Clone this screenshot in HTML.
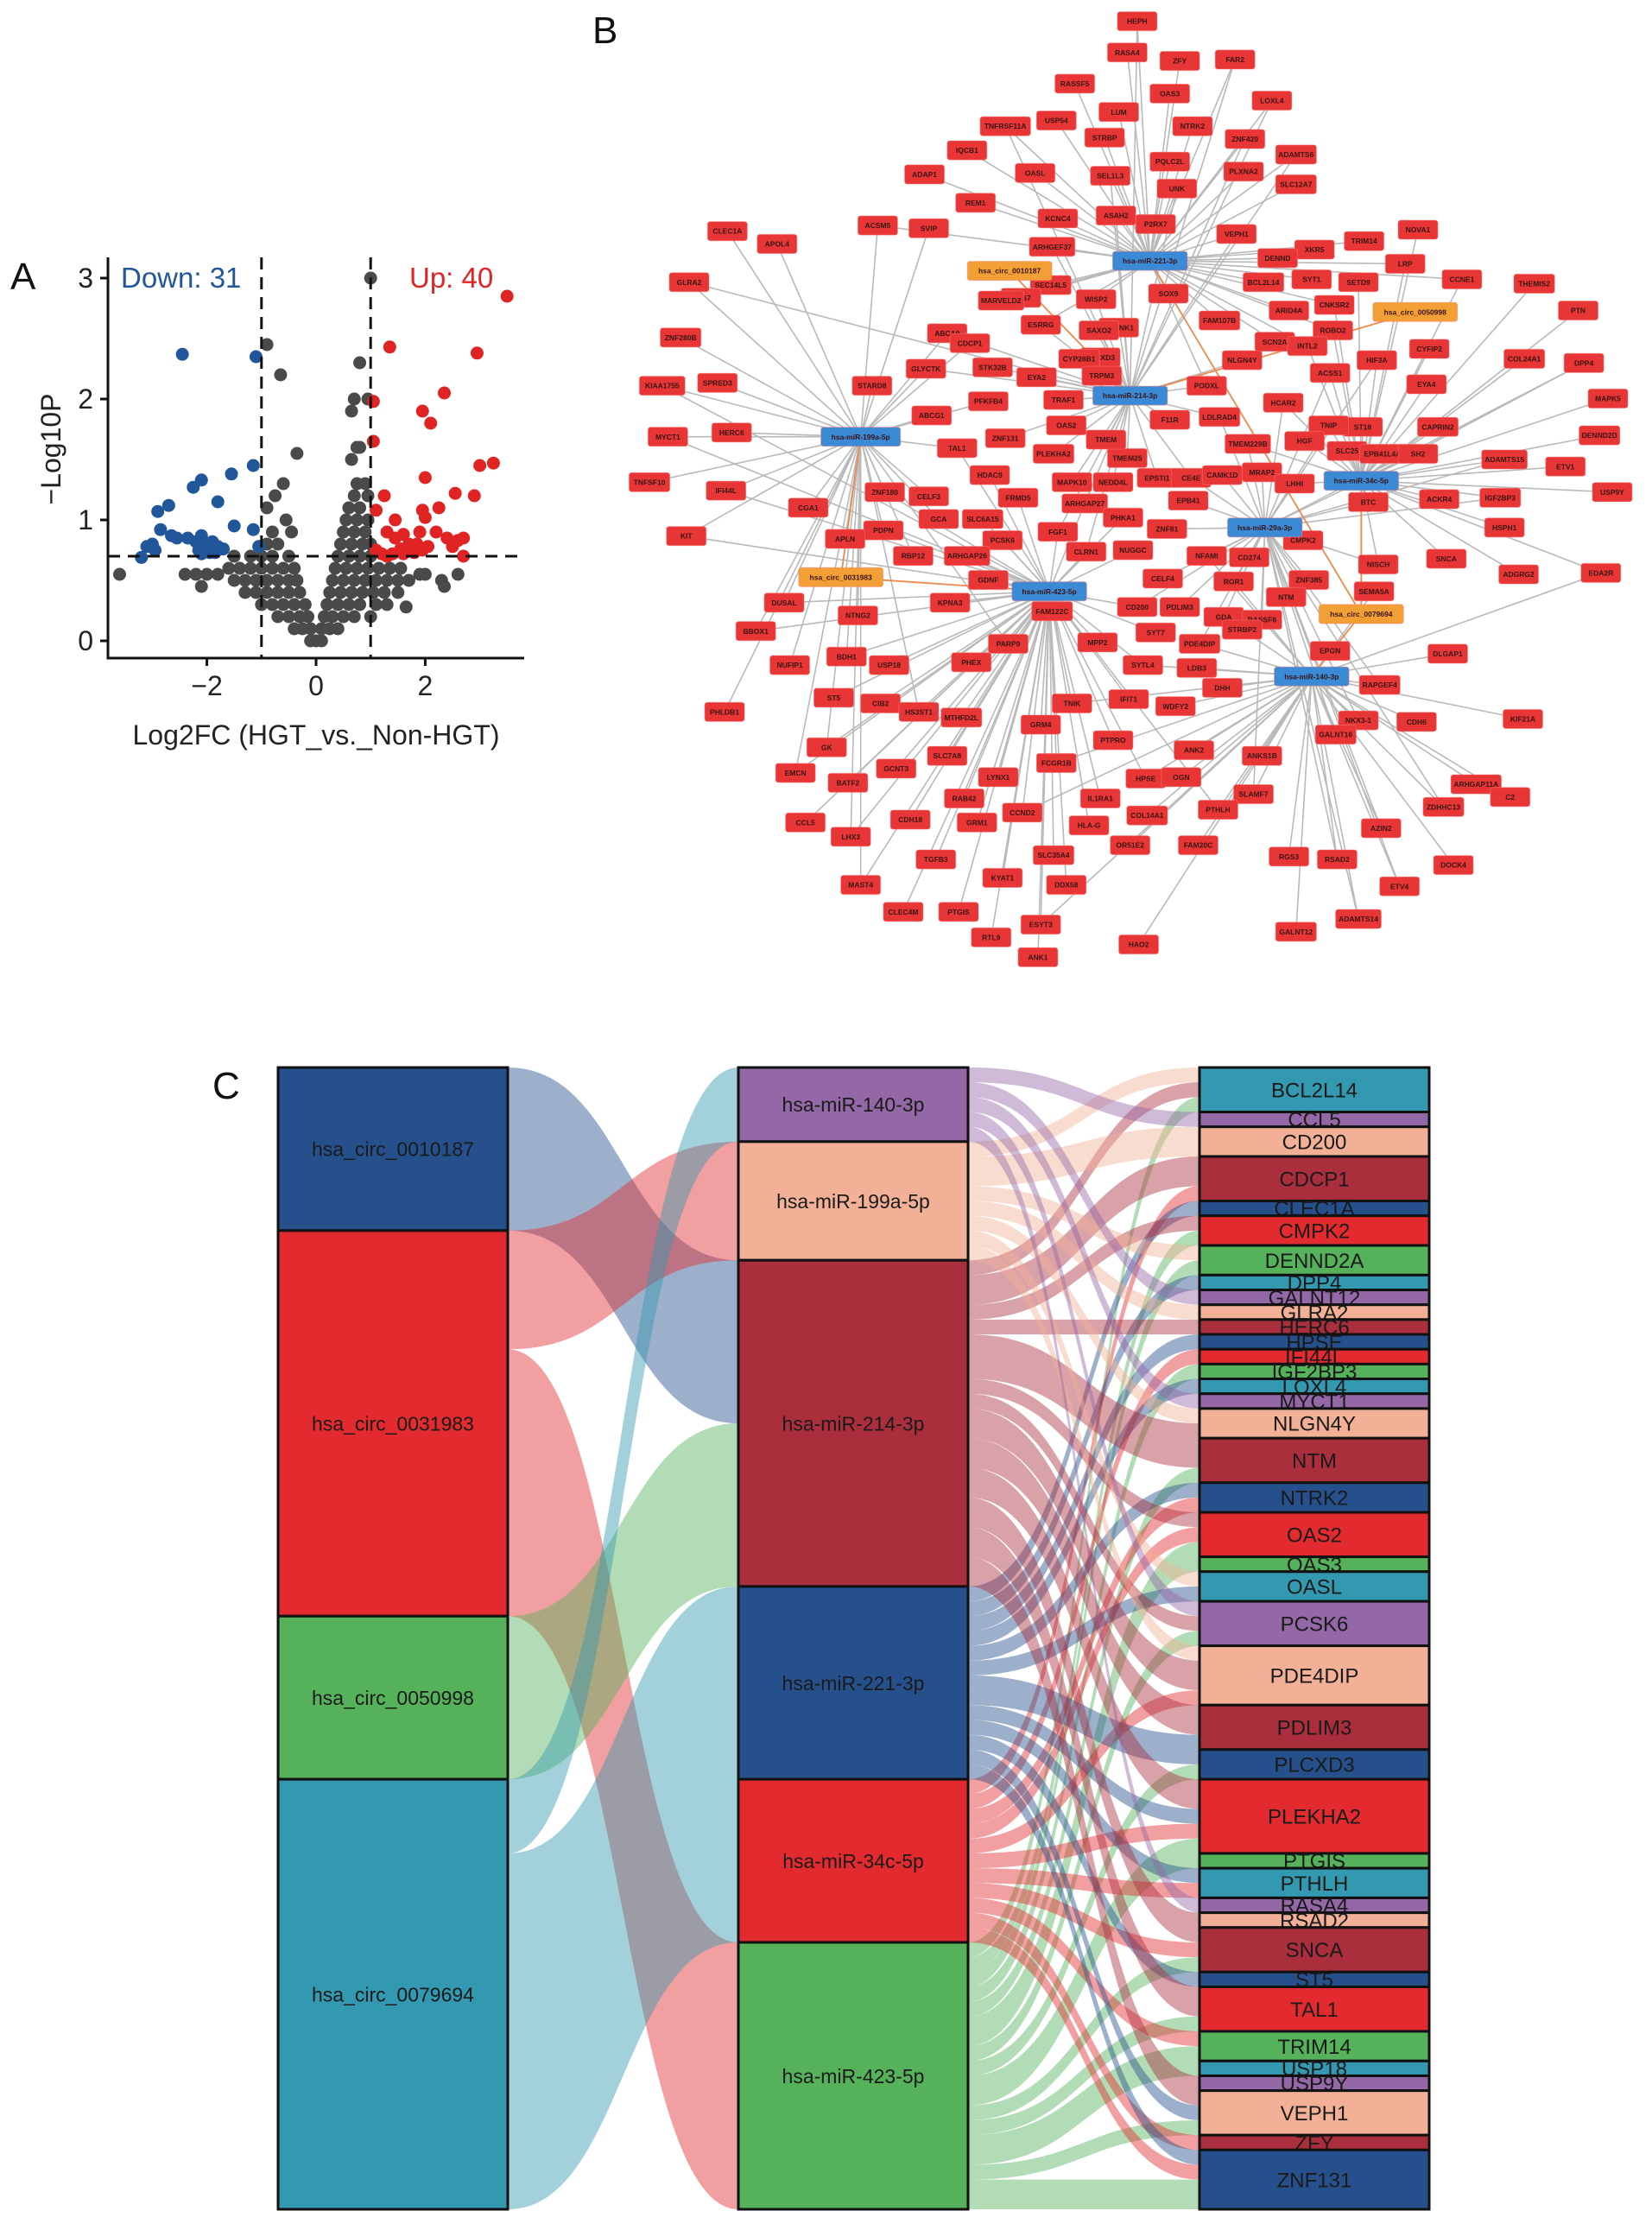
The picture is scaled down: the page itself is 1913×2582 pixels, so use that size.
<!DOCTYPE html>
<html><head><meta charset="utf-8">
<style>
html,body{margin:0;padding:0;background:#fff;}
body{width:1913px;height:2582px;position:relative;overflow:hidden;font-family:"Liberation Sans",sans-serif;}
svg{position:absolute;left:0;top:0;}
</style></head>
<body>
<svg id="fig" width="1913" height="2582" viewBox="0 0 1913 2582" xmlns="http://www.w3.org/2000/svg">
<g id="volcano"></g>
<g id="network"></g>
<g id="sankey"></g>
</svg>
<script>
// ---------- Panel A data ----------
const greyX=[-0.1,0,0.1,-0.4,-0.25,-0.1,0.1,0.25,0.4,-0.7,-0.5,-0.3,-0.15,0.15,0.3,0.5,0.7,1.0,-1.0,-0.8,-0.6,-0.4,-0.2,0.2,0.4,0.6,0.8,1.1,1.3,-1.3,-1.1,-0.9,-0.7,-0.5,-0.3,0.25,0.45,0.65,0.85,1.05,1.25,1.5,-1.5,-1.3,-1.1,-0.9,-0.7,-0.5,-0.35,0.3,0.5,0.7,0.9,1.1,1.3,1.5,1.7,2.3,-2.4,-2.2,-2.0,-1.8,-3.6,2.6,1.9,2.0,-1.6,-1.4,-1.2,-1.0,-0.8,-0.6,-0.4,0.35,0.55,0.75,0.95,1.15,1.35,1.55,-1.5,-1.2,-1.0,-0.8,-0.5,0.4,0.6,0.8,1.0,1.3,-0.9,-0.7,0.45,0.65,0.85,1.0,-0.8,-0.45,0.5,0.7,0.9,-0.55,0.55,0.75,0.95,-0.9,0.6,0.8,-0.75,0.7,0.95,-0.6,0.75,0.9,0.65,0.75,0.8,-0.35,0.65,0.7,0.95,-0.65,0.8,-0.9,1.0,1.65,-2.1,2.35];
const greyY=[0,0,0,0.1,0.1,0.1,0.1,0.1,0.1,0.2,0.2,0.2,0.2,0.2,0.2,0.2,0.2,0.2,0.3,0.3,0.3,0.3,0.3,0.3,0.3,0.3,0.3,0.3,0.3,0.4,0.4,0.4,0.4,0.4,0.4,0.4,0.4,0.4,0.4,0.4,0.4,0.4,0.5,0.5,0.5,0.5,0.5,0.5,0.5,0.5,0.5,0.5,0.5,0.5,0.5,0.5,0.5,0.5,0.55,0.55,0.55,0.55,0.55,0.55,0.55,0.55,0.6,0.6,0.6,0.6,0.6,0.6,0.6,0.6,0.6,0.6,0.6,0.6,0.6,0.6,0.7,0.7,0.7,0.7,0.7,0.7,0.7,0.7,0.7,0.7,0.8,0.8,0.8,0.8,0.8,0.8,0.9,0.9,0.9,0.9,0.9,1.0,1.0,1.0,1.0,1.1,1.1,1.1,1.2,1.2,1.2,1.3,1.3,1.3,1.5,1.6,1.6,1.55,1.9,2.0,2.0,2.2,2.3,2.45,3.0,0.28,0.45,0.45];
const downX=[-2.45,-1.1,-1.15,-1.55,-2.1,-2.25,-1.8,-2.7,-2.9,-1.5,-1.15,-2.85,-2.65,-2.55,-2.35,-2.2,-2.1,-2.0,-1.9,-1.8,-1.7,-3.0,-3.1,-2.95,-3.2,-1.05,-2.1,-1.95,-1.85,-2.05,-2.15];
const downY=[2.37,2.35,1.45,1.38,1.33,1.27,1.15,1.12,1.07,0.95,0.92,0.92,0.87,0.85,0.85,0.82,0.87,0.8,0.82,0.78,0.76,0.8,0.78,0.75,0.69,0.78,0.72,0.73,0.73,0.76,0.75];
const upX=[3.5,1.35,2.95,2.35,1.05,1.95,2.1,1.05,3.0,3.25,2.0,1.25,2.55,2.9,1.1,1.95,2.25,1.45,2.0,1.3,1.6,1.9,2.2,1.45,2.4,2.6,2.7,1.1,1.2,1.55,1.7,1.85,2.05,1.8,1.3,2.7,1.6,1.95,1.4,2.5];
const upY=[2.85,2.43,2.38,2.05,1.98,1.9,1.8,1.65,1.45,1.47,1.35,1.2,1.22,1.2,1.08,1.08,1.1,1.0,1.02,0.9,0.88,0.9,0.9,0.85,0.85,0.83,0.85,0.75,0.72,0.76,0.8,0.8,0.78,0.73,0.7,0.7,0.72,0.75,0.72,0.78];
const xTicks=[-2,0,2];
const yTicks=[0,1,2,3];
const fcCut=[-1,1];
const pCut=0.7;

const NS="http://www.w3.org/2000/svg";
function mk(tag,attrs,parent,text){const e=document.createElementNS(NS,tag);for(const k in attrs)e.setAttribute(k,attrs[k]);if(text!==undefined)e.textContent=text;parent.appendChild(e);return e;}

(function(){
  const g=document.getElementById('volcano');
  const X=v=>366+v*63.2, Y=v=>742-v*140;
  mk('text',{x:12,y:335,'font-size':44,fill:'#111'},g,'A');
  const ax=mk('path',{d:'M125 298 V762 H607',fill:'none',stroke:'#111','stroke-width':3},g);
  
  
  yTicks.forEach(t=>{
    const tk=mk('line',{x1:116,x2:125,y1:Y(t),y2:Y(t),stroke:'#111','stroke-width':3},g);
    
    const tl=mk('text',{x:108,y:Y(t)+11,'font-size':32,'text-anchor':'end',fill:'#222'},g,String(t));
    
  });
  xTicks.forEach(t=>{
    const tk=mk('line',{x1:X(t),x2:X(t),y1:762,y2:771,stroke:'#111','stroke-width':3},g);
    
    const tl=mk('text',{x:X(t),y:805,'font-size':32,'text-anchor':'middle',fill:'#222'},g,t<0?'\u2212'+(-t):String(t));
    
  });
  const yl=mk('text',{x:0,y:0,'font-size':32,'text-anchor':'middle',fill:'#222',transform:'translate(70,520) rotate(-90)'},g,'\u2212Log10P');
  
  const xl=mk('text',{x:366,y:862,'font-size':32,'text-anchor':'middle',fill:'#222'},g,'Log2FC (HGT_vs._Non-HGT)');
  
  function pts(xs,ys,col,name){xs.forEach((x,i)=>{const c=mk('circle',{cx:X(x),cy:Y(ys[i]),r:7.5,fill:col},g);});}
  pts(greyX,greyY,'#4a4a4a','point-ns');
  pts(downX,downY,'#21579a','point-down');
  pts(upX,upY,'#e02424','point-up');
  fcCut.forEach(v=>{const l=mk('line',{x1:X(v),x2:X(v),y1:298,y2:762,stroke:'#111','stroke-width':3,'stroke-dasharray':'14 9'},g);});
  const hl=mk('line',{x1:125,x2:607,y1:Y(pCut),y2:Y(pCut),stroke:'#111','stroke-width':3,'stroke-dasharray':'14 9'},g);
  
  const d=mk('text',{x:140,y:333,'font-size':33,fill:'#21579a'},g,'Down: 31');
  const u=mk('text',{x:474,y:333,'font-size':33,fill:'#e02424'},g,'Up: 40');
})();

// ---------- Panel B network ----------
const hubs=[["hsa-miR-221-3p",811,184],["hsa-miR-214-3p",797,279],["hsa-miR-199a-5p",607,308],["hsa-miR-34c-5p",960,339],["hsa-miR-29a-3p",892,372],["hsa-miR-423-5p",740,417],["hsa-miR-140-3p",925,477]];
const circs=[["hsa_circ_0010187",712,191,[1]],["hsa_circ_0050998",998,220,[1]],["hsa_circ_0031983",593,407,[2,5]],["hsa_circ_0079694",960,433,[6,0,3]]];
const genes=[["HEPH",802,15],["RASA4",795,37],["ZFY",832,43],["FAR2",871,42],["RASSF5",758,59],["OAS3",825,66],["LOXL4",897,71],["LUM",789,79],["USP54",745,85],["TNFRSF11A",709,89],["NTRK2",841,89],["STRBP",779,97],["ZNF420",878,98],["IQCB1",682,106],["PQLC2L",825,114],["ADAMTS6",914,109],["ADAP1",652,123],["OASL",730,122],["SEL1L3",783,124],["PLXNA2",877,121],["SLC12A7",914,130],["UNK",830,133],["REM1",688,143],["KCNC4",746,154],["ASAH2",787,152],["P2RX7",815,158],["CLEC1A",513,163],["ACSM5",619,159],["SVIP",655,161],["APOL4",548,172],["VEPH1",872,165],["NOVA1",1000,162],["TRIM14",962,170],["ARHGEF37",742,174],["XKR5",927,176],["DENND",901,182],["LRP",991,186],["SYT1",925,197],["SETD9",958,199],["CCNE1",1031,197],["BCL2L14",891,199],["THEMIS2",1082,200],["GLRA2",486,199],["SEC14L5",741,201],["GAS7",720,210],["WISP2",773,211],["SOX9",824,207],["ARID4A",909,219],["CNKSR2",941,215],["MARVELD2",706,212],["FAM107B",860,226],["ROBO2",940,233],["PTN",1113,219],["GPANK1",789,231],["ESRRG",734,229],["SAXO2",775,233],["ZNF280B",480,238],["ABCA9",668,235],["CDCP1",684,242],["SCN2A",899,241],["INTL2",922,244],["PLCXD3",776,252],["NLGN4Y",876,254],["HIF3A",971,254],["CYFIP2",1008,246],["COL24A1",1075,253],["DPP4",1117,256],["CYP26B1",761,253],["TRPM3",777,265],["GLYCTK",653,260],["STK32B",700,259],["EYA2",731,266],["ACSS1",938,263],["EYA4",1006,271],["MAPK5",1134,281],["KIAA1755",467,272],["SPRED3",506,270],["STARD8",615,272],["PODXL",851,272],["PFKFB4",697,283],["TRAF1",750,282],["HCAR2",905,284],["ABCG1",657,293],["F11R",825,296],["LDLRAD4",860,294],["CAPRIN2",1014,301],["ST18",961,301],["TNIP",937,300],["HGF",920,311],["DENND2D",1128,307],["MYCT1",471,308],["HERC6",516,305],["OAS2",752,300],["TAL1",675,316],["ZNF131",709,309],["TMEM25",795,323],["TMEM229B",880,313],["SLC25",950,318],["EPB41L4A",975,320],["SH2",1000,320],["PLEKHA2",743,320],["TMEM",780,310],["ADAMTS15",1061,324],["ETV1",1104,329],["TNFSF10",458,340],["IFI44L",512,346],["HDAC9",698,335],["EPSTI1",816,337],["CE4E",840,337],["CAMK1D",862,335],["MRAP2",890,333],["LHHI",913,341],["MAPK10",756,340],["NEDD4L",785,340],["ZNF180",624,347],["CELF3",655,350],["FRMD5",718,351],["ARHGAP27",765,355],["CGA1",570,358],["PHKA1",792,365],["IGF2BP3",1058,351],["USP9Y",1137,347],["EPB41",838,353],["BTC",965,354],["ACKR4",1015,352],["HSPH1",1061,372],["PDPN",623,374],["GCA",662,366],["SLC6A15",693,366],["FGF1",746,375],["PCSK6",707,381],["APLN",596,380],["CLRN1",766,389],["NUGGC",799,388],["ZNF81",823,373],["NFAMI",851,392],["CD274",881,393],["CMPK2",919,381],["KIT",484,378],["RBP12",644,392],["ARHGAP26",682,392],["NISCH",972,398],["SNCA",1020,394],["ADGRG2",1071,405],["EDA2R",1129,404],["GDNF",697,409],["CELF4",820,408],["ROR1",870,410],["ZNF385",923,409],["SEMA5A",969,417],["DUSAL",553,425],["KPNA3",670,425],["NTM",907,421],["CD200",802,428],["PDLIM3",832,428],["GDA",863,435],["RASSF6",890,437],["FAM122C",742,431],["NTNG2",605,434],["BBOX1",533,445],["SYT7",815,446],["STRBP2",876,444],["PDE4DIP",846,454],["EPGN",938,459],["DLGAP1",1021,461],["PARP9",711,454],["MPP2",774,453],["NUFIP1",557,469],["BDH1",597,463],["USP18",627,469],["PHEX",685,467],["SYTL4",806,469],["LDB3",844,471],["DHH",862,485],["RAPGEF4",973,483],["IFIT1",796,493],["WDFY2",829,498],["TNIK",756,496],["ST5",588,492],["CIB2",621,496],["HS3ST1",648,502],["MTHFD2L",678,506],["PHLDB1",511,502],["NKX3-1",958,508],["CDH6",999,509],["KIF21A",1074,507],["GK",583,527],["GRM4",734,511],["PTPRO",785,522],["GALNT16",942,518],["ANK2",842,529],["ANKS1B",890,533],["EMCN",561,545],["GCNT3",632,542],["SLC7A8",668,533],["FCGR1B",745,538],["BATF2",598,552],["LYNX1",704,548],["HPSE",808,549],["OGN",833,548],["IL1RA1",776,563],["SLAMF7",884,560],["ARHGAP11A",1041,553],["C2",1065,562],["ZDHHC13",1018,569],["RAB42",680,563],["CCL5",568,580],["LHX3",600,590],["CDH18",642,578],["GRM1",689,580],["CCND2",721,573],["HLA-G",768,582],["COL14A1",809,575],["PTHLH",859,571],["OR51E2",797,596],["FAM20C",845,596],["AZIN2",974,584],["TGFB3",660,606],["SLC35A4",743,603],["MAST4",607,624],["DOCK4",1025,610],["RGS3",909,604],["RSAD2",943,606],["DDX58",752,624],["KYAT1",707,619],["ETV4",987,625],["CLEC4M",637,643],["PTGIS",676,643],["ESYT3",734,652],["RTL9",699,661],["ANK1",732,675],["ADAMTS14",958,648],["GALNT12",914,657],["HAO2",803,666]];

(function(){
  const S=1.642;
  const g=document.getElementById('network');
  mk('text',{x:686,y:50,'font-size':44,fill:'#111'},g,'B');
  const eg=mk('g',{},g);
  const dist=(a,b)=>Math.hypot(a[1]-b[1],a[2]-b[2]);
  genes.forEach((n,i)=>{
    const order=hubs.map((h,j)=>[dist(n,h),j]).sort((a,b)=>a[0]-b[0]);
    const targets=[order[0][1]];
    if(i%3===0) targets.push(order[1][1]);
    targets.forEach(j=>{
      const l=mk('line',{x1:n[1]*S,y1:n[2]*S,x2:hubs[j][1]*S,y2:hubs[j][2]*S,stroke:'#b9b9b9','stroke-width':1.6},eg);
      
      
    });
  });
  circs.forEach(c=>{c[3].forEach(j=>{
    const l=mk('line',{x1:c[1]*S,y1:c[2]*S,x2:hubs[j][1]*S,y2:hubs[j][2]*S,stroke:'#ee8a4a','stroke-width':1.8},eg);
    
    
  });});
  function box(n,fill,fs,minW,name){
    const w=Math.max(minW,n[0].length*fs*0.66+8),h=fs*2.6;
    const x=n[1]*S,y=n[2]*S;
    const grp=mk('g',{},g);
    
    
    mk('rect',{x:x-w/2,y:y-h/2,width:w,height:h,rx:3,fill:fill,stroke:'rgba(255,120,120,0.5)','stroke-width':1},grp);
    mk('text',{x:x,y:y+fs*0.36,'font-size':fs,'font-weight':'bold','text-anchor':'middle',fill:'#3a1414'},grp,n[0]);
  }
  genes.forEach(n=>box(n,'#e83535',8.5,46,'gene-node'));
  hubs.forEach(n=>box(n,'#3b8ad6',8.5,80,'mirna-node'));
  circs.forEach(n=>box(n,'#f2a035',8.5,90,'circrna-node'));
})();

// ---------- Panel C sankey ----------
const circNames=["hsa_circ_0010187","hsa_circ_0031983","hsa_circ_0050998","hsa_circ_0079694"];
const mirNames=["hsa-miR-140-3p","hsa-miR-199a-5p","hsa-miR-214-3p","hsa-miR-221-3p","hsa-miR-34c-5p","hsa-miR-423-5p"];
const geneNames=["BCL2L14","CCL5","CD200","CDCP1","CLEC1A","CMPK2","DENND2A","DPP4","GALNT12","GLRA2","HERC6","HPSE","IFI44L","IGF2BP3","LOXL4","MYCT1","NLGN4Y","NTM","NTRK2","OAS2","OAS3","OASL","PCSK6","PDE4DIP","PDLIM3","PLCXD3","PLEKHA2","PTGIS","PTHLH","RASA4","RSAD2","SNCA","ST5","TAL1","TRIM14","USP18","USP9Y","VEPH1","ZFY","ZNF131"];
const circMirSrc=[0,1,1,2,3,3,3];
const circMirDst=[2,1,5,2,0,3,4];
const circMirVal=[11,8,18,11,5,13,11];
const mirGeneSrc=[1,2,5, 0, 1, 2,4, 3, 2,5, 1,5, 3, 0, 1, 2, 3, 4, 5, 3, 0, 1,2, 2,5, 3,4, 2,4,5, 5, 1,3, 0,2,5, 1,2,4, 2,3, 3,5, 2,3,4,5, 5, 3,4, 0, 2, 2,4,5, 3, 2,5, 4,5, 5, 2, 2,3,5, 4, 3,4,5];
const mirGeneDst=[0,0,0, 1, 2, 3,3, 4, 5,5, 6,6, 7, 8, 9, 10, 11, 12, 13, 14, 15, 16,16, 17,17, 18,18, 19,19,19, 20, 21,21, 22,22,22, 23,23,23, 24,24, 25,25, 26,26,26,26, 27, 28,28, 29, 30, 31,31,31, 32, 33,33, 34,34, 35, 36, 37,37,37, 38, 39,39,39];
const mirGeneVal=[1,1,1, 1, 2, 2,1, 1, 1,1, 1,1, 1, 1, 1, 1, 1, 1, 1, 1, 1, 1,1, 2,1, 1,1, 1,1,1, 1, 1,1, 1,1,1, 1,2,1, 2,1, 1,1, 2,1,1,1, 1, 1,1, 1, 1, 1,1,1, 1, 2,1, 1,1, 1, 1, 1,1,1, 1, 1,1,2];

(function(){
  const g=document.getElementById('sankey');
  mk('text',{x:246,y:1272,'font-size':44,fill:'#111'},g,'C');
  const pal=['#26508c','#e32a2f','#55b25a','#3399b0','#9467a6','#f2b197','#ab2e3d'];
  const Y0=1236,Y1=2558;
  const xs=[[322,588],[855,1121],[1389,1655]];
  const circW=circNames.map((_,i)=>circMirVal.reduce((s,v,k)=>s+(circMirSrc[k]===i?v:0),0));
  const mirW=mirNames.map((_,i)=>mirGeneVal.reduce((s,v,k)=>s+(mirGeneSrc[k]===i?v:0),0));
  const geneW=geneNames.map((_,i)=>mirGeneVal.reduce((s,v,k)=>s+(mirGeneDst[k]===i?v:0),0));
  function layout(w){const tot=w.reduce((a,b)=>a+b,0);const u=(Y1-Y0)/tot;let y=Y0;return w.map(v=>{const r=[y,y+v*u];y+=v*u;return r;});}
  const L0=layout(circW),L1=layout(mirW),L2=layout(geneW);
  const u=(Y1-Y0)/circW.reduce((a,b)=>a+b,0);
  function flows(src,dst,val,Ls,Ld,x0,x1,colOff,name){
    const idx=val.map((_,k)=>k).filter(k=>val[k]>0);
    const bySrc=idx.slice().sort((a,b)=>src[a]-src[b]||dst[a]-dst[b]);
    const byDst=idx.slice().sort((a,b)=>dst[a]-dst[b]||src[a]-src[b]);
    const sy={},dy={};const sc={},dc={};
    bySrc.forEach(k=>{const s=src[k];if(sc[s]===undefined)sc[s]=Ls[s][0];sy[k]=sc[s];sc[s]+=val[k]*u;});
    byDst.forEach(k=>{const d=dst[k];if(dc[d]===undefined)dc[d]=Ld[d][0];dy[k]=dc[d];dc[d]+=val[k]*u;});
    const xm=(x0+x1)/2;
    idx.forEach(k=>{
      const a=sy[k],b=dy[k],h=val[k]*u;
      const p=mk('path',{d:`M${x0},${a} C${xm},${a} ${xm},${b} ${x1},${b} L${x1},${b+h} C${xm},${b+h} ${xm},${a+h} ${x0},${a+h} Z`,fill:pal[(src[k]+colOff)%7],'fill-opacity':0.45},g);
      
      
    });
  }
  flows(circMirSrc,circMirDst,circMirVal,L0,L1,588,855,0,'circ-mirna-flow');
  flows(mirGeneSrc,mirGeneDst,mirGeneVal,L1,L2,1121,1389,4,'mirna-gene-flow');
  function nodes(names,L,x,colOff,fs,name){
    names.forEach((n,i)=>{
      const grp=mk('g',{},g);
      
      
      mk('rect',{x:x[0],y:L[i][0],width:x[1]-x[0],height:L[i][1]-L[i][0],fill:pal[(i+colOff)%7],stroke:'#111','stroke-width':3},grp);
      mk('text',{x:(x[0]+x[1])/2,y:(L[i][0]+L[i][1])/2+fs*0.36,'font-size':fs,'text-anchor':'middle',fill:'#1a1a1a'},grp,n);
    });
  }
  nodes(circNames,L0,xs[0],0,23,'circrna-stratum');
  nodes(mirNames,L1,xs[1],4,23,'mirna-stratum');
  nodes(geneNames,L2,xs[2],3,24,'gene-stratum');
})();
</script>
</body></html>
